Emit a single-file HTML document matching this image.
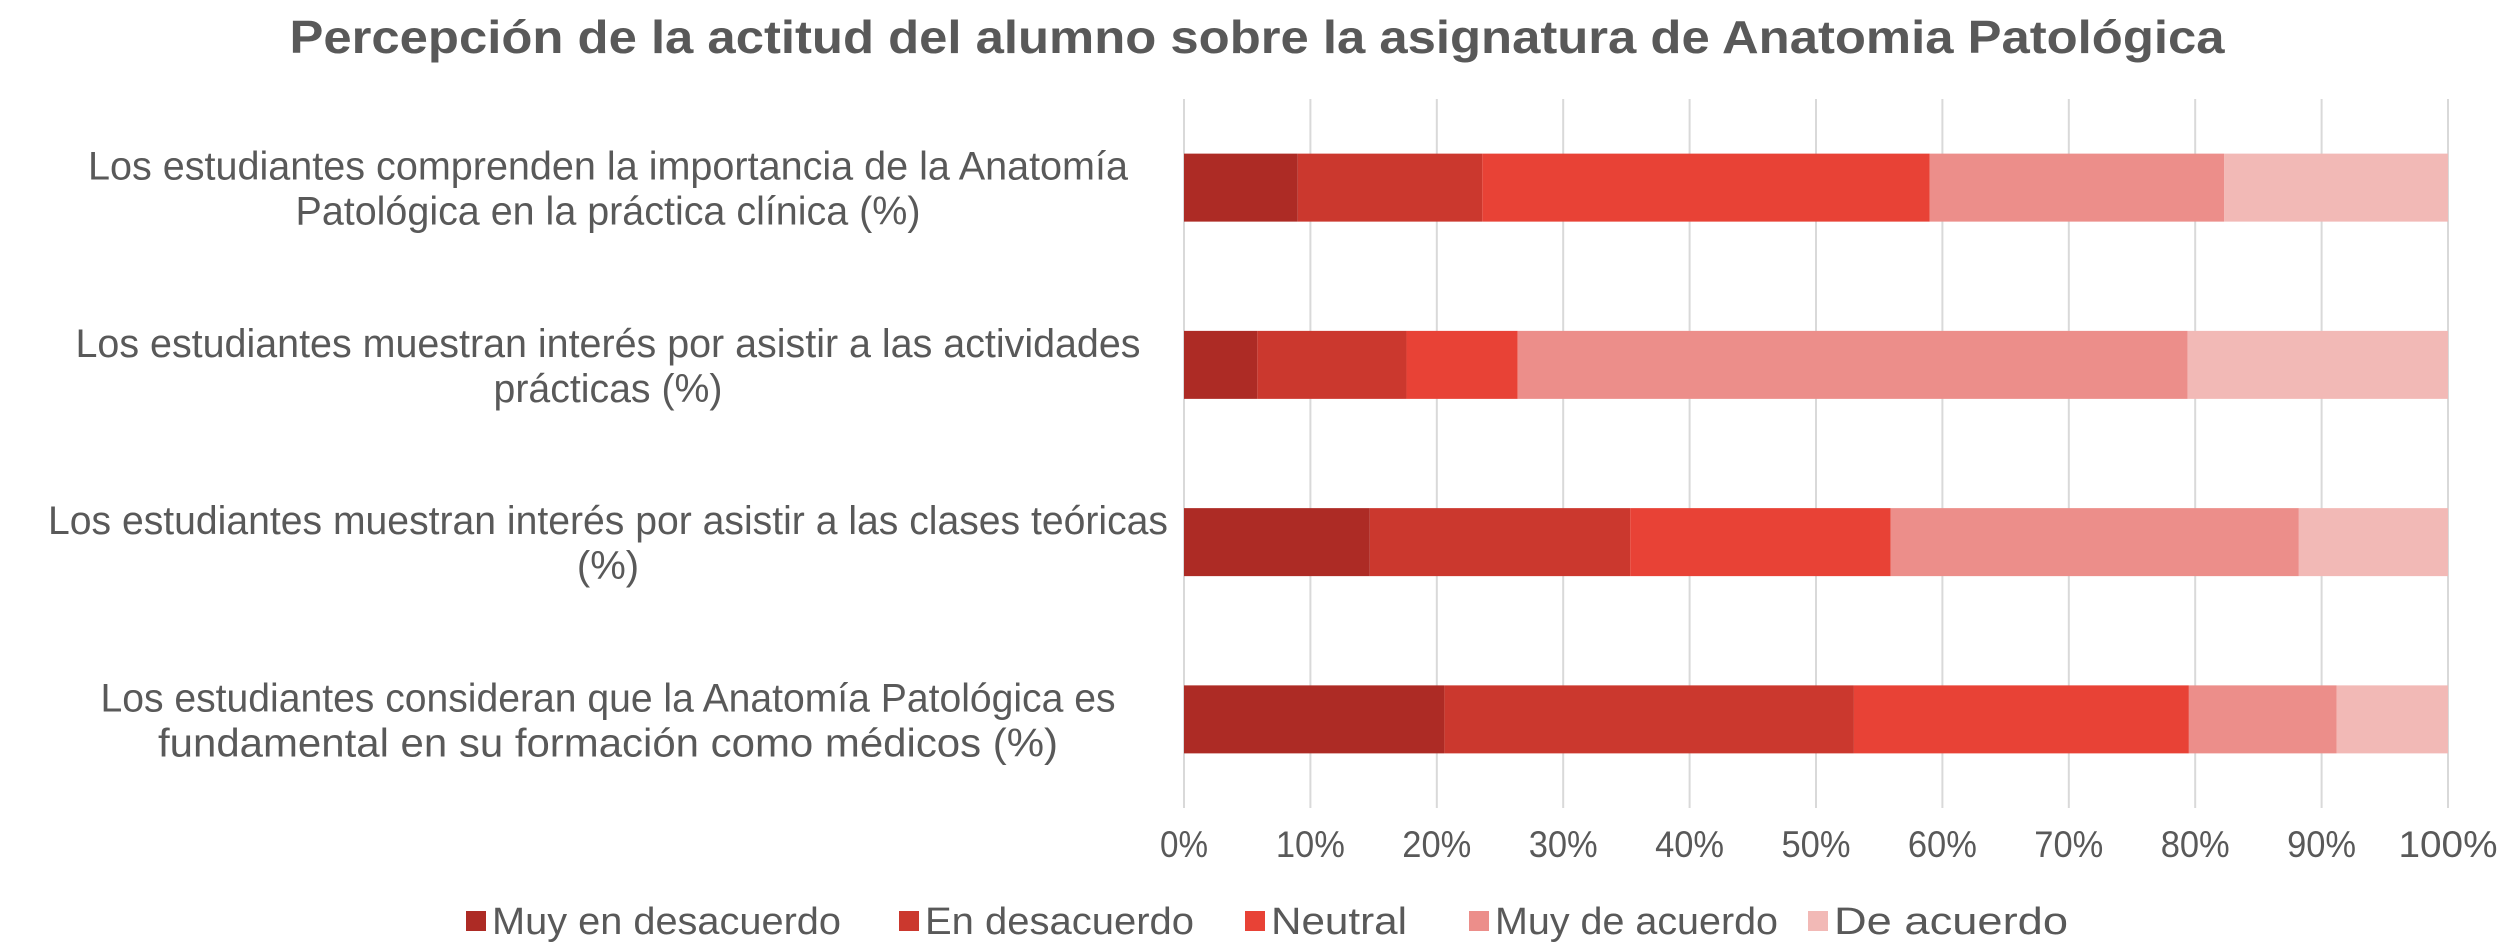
<!DOCTYPE html>
<html><head><meta charset="utf-8"><style>
html,body{margin:0;padding:0;background:#fff;}
svg{display:block;font-family:"Liberation Sans",sans-serif;}
</style></head><body>
<svg id="chart" width="2508" height="948" viewBox="0 0 2508 948">
<text x="1257" y="53" text-anchor="middle" font-size="46" font-weight="bold" fill="#595959" textLength="1935" lengthAdjust="spacingAndGlyphs">Percepción de la actitud del alumno sobre la asignatura de Anatomia Patológica</text>
<g id="grid"></g><g id="bars"></g><g id="labels"></g><g id="ticks"></g><g id="legend"></g>
</svg>
<script>
const categories = [
 ["Los estudiantes comprenden la importancia de la Anatomía","Patológica en la práctica clínica (%)"],
 ["Los estudiantes muestran interés por asistir a las actividades","prácticas (%)"],
 ["Los estudiantes muestran interés por asistir a las clases teóricas","(%)"],
 ["Los estudiantes consideran que la Anatomía Patológica es","fundamental en su formación como médicos (%)"]
];
const seriesNames = ["Muy en desacuerdo","En desacuerdo","Neutral","Muy de acuerdo","De acuerdo"];
const muyDesacuerdo = [9, 5.8, 14.7, 20.6];
const desacuerdo = [14.6, 11.8, 20.6, 32.4];
const neutral = [35.4, 8.8, 20.6, 26.5];
const muyAcuerdo = [23.3, 53.0, 32.3, 11.7];
const deAcuerdo = [17.7, 20.6, 11.8, 8.8];
const tickLabels = ["0%","10%","20%","30%","40%","50%","60%","70%","80%","90%","100%"];
const series = [muyDesacuerdo, desacuerdo, neutral, muyAcuerdo, deAcuerdo];
const colors = ["#AD2B25","#CB382E","#E84236","#EC8E8A","#F2B9B6"];
const NS="http://www.w3.org/2000/svg";
const X0=1184, X1=2448, Y0=99, Y1=808;
const xs = v => X0 + (v/100)*(X1-X0);
const band = (Y1-Y0)/categories.length;
const yc = i => Y0 + band*(i+0.5);
const barH = 68;
function mk(tag, attrs, parent){const e=document.createElementNS(NS,tag);for(const k in attrs)e.setAttribute(k,attrs[k]);document.getElementById(parent).appendChild(e);return e;}
const tickW=[48,69,69,69,69,69,69,69,69,69,99];
tickLabels.forEach((t,i)=>{
  const v=i*10;
  const l=mk('line',{x1:xs(v),x2:xs(v),y1:Y0,y2:Y1,stroke:'#d9d9d9','stroke-width':2},'grid');
  
  
  const tx=mk('text',{x:xs(v),y:857,'text-anchor':'middle','font-size':37,fill:'#595959',textLength:tickW[i],lengthAdjust:'spacingAndGlyphs'},'ticks');
  tx.textContent=t;
  
  
});
const lineLens=[[1040,625],[1065,229],[1120,0],[1015,900]];
categories.forEach((c,i)=>{
  let acc=0;
  series.forEach((s,j)=>{
    const r=mk('rect',{x:xs(acc),y:yc(i)-barH/2,width:xs(acc+s[i])-xs(acc),height:barH,fill:colors[j]},'bars');
    
    
    acc+=s[i];
  });
  c.forEach((line,k)=>{
    const a={x:608,y:yc(i)-8+k*45,'text-anchor':'middle','font-size':40,fill:'#595959'};
    if(lineLens[i][k]){a.textLength=lineLens[i][k];a.lengthAdjust='spacingAndGlyphs';}
    const t=mk('text',a,'labels');
    t.textContent=line;
    
    
  });
});
const legX=[466,899,1245,1469,1808];
const legW=[349,269,136,283,234];
seriesNames.forEach((n,j)=>{
  const r=mk('rect',{x:legX[j],y:911,width:20,height:20,fill:colors[j]},'legend');
  
  
  const t=mk('text',{x:legX[j]+26,y:934,'font-size':38,fill:'#595959',textLength:legW[j],lengthAdjust:'spacingAndGlyphs'},'legend');
  t.textContent=n;
  
  
});
</script>
</body></html>
